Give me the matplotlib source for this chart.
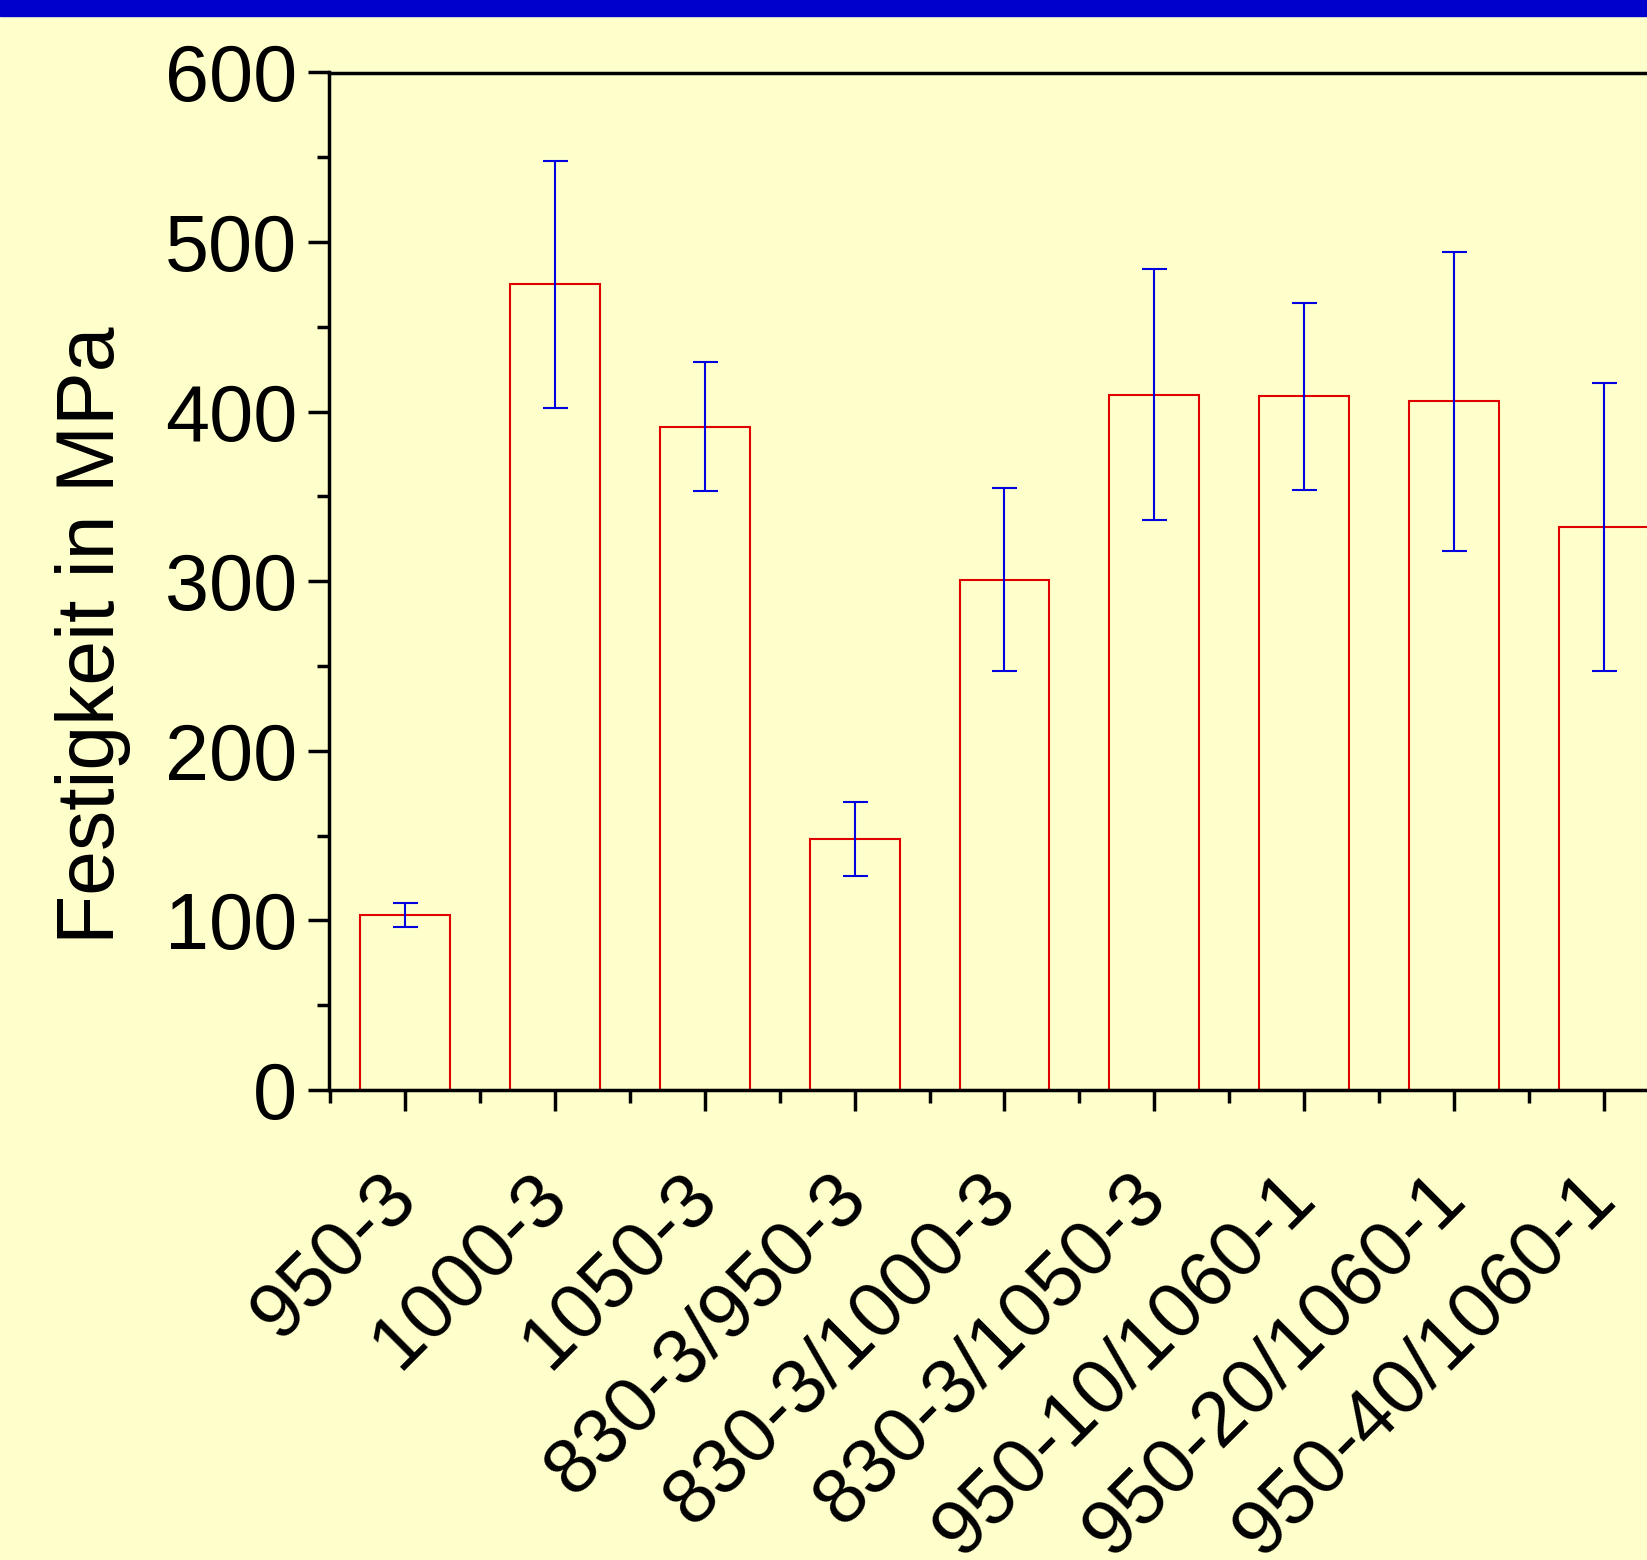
import numpy as np
import matplotlib.pyplot as plt
from matplotlib.patches import Rectangle
from matplotlib.ticker import MultipleLocator

# Daten
proben = ['950-3', '1000-3', '1050-3', '830-3/950-3', '830-3/1000-3',
          '830-3/1050-3', '950-10/1060-1', '950-20/1060-1', '950-40/1060-1']
festigkeit = [103, 475, 391, 148, 301, 410, 409, 406, 332]
fehler = [7, 73, 38, 22, 54, 74, 55, 88, 85]

plt.rcParams['font.family'] = ['Liberation Sans', 'DejaVu Sans']

fig = plt.figure(figsize=(16.47, 15.6), dpi=100, facecolor='#FFFFCC')
# blauer Balken oben
fig.patches.append(Rectangle((0, 1 - 16 / 1560), 1, 16 / 1560,
                             transform=fig.transFigure, color='#0000CC', zorder=5))

ax = fig.add_axes([329 / 1647, 470 / 1560, 1 - 329 / 1647, 1017.5 / 1560])
ax.set_facecolor('#FFFFCC')

x = np.arange(len(proben))
ax.bar(x, festigkeit, width=0.6, facecolor='none', edgecolor='#E00000', linewidth=1.5)
ax.errorbar(x, festigkeit, yerr=fehler, fmt='none', ecolor='#0000E0',
            elinewidth=1.5, capsize=9, capthick=1.5)

ax.set_xlim(-0.51, 8.29)
ax.set_ylim(0, 600)

ax.spines['right'].set_visible(False)
for s in ['left', 'bottom', 'top']:
    ax.spines[s].set_linewidth(2.5)

ax.yaxis.set_major_locator(MultipleLocator(100))
ax.yaxis.set_minor_locator(MultipleLocator(50))
ax.set_xticks(x)
ax.set_xticks(np.arange(-0.5, 8.5, 1), minor=True)
ax.tick_params(axis='both', which='major', length=15, width=2.5, direction='out')
ax.tick_params(axis='both', which='minor', length=9, width=2.5, direction='out')
ax.tick_params(axis='y', which='major', labelsize=57, pad=8)
ax.tick_params(axis='x', which='major', labelsize=56, pad=54)

ax.set_xticklabels(proben, rotation=45, ha='right', va='center', rotation_mode='anchor')

ax.set_ylabel('Festigkeit in MPa', fontsize=58)
ax.yaxis.set_label_coords(-0.150, 0.447)

fig.savefig('out.png', dpi=100, facecolor=fig.get_facecolor())
